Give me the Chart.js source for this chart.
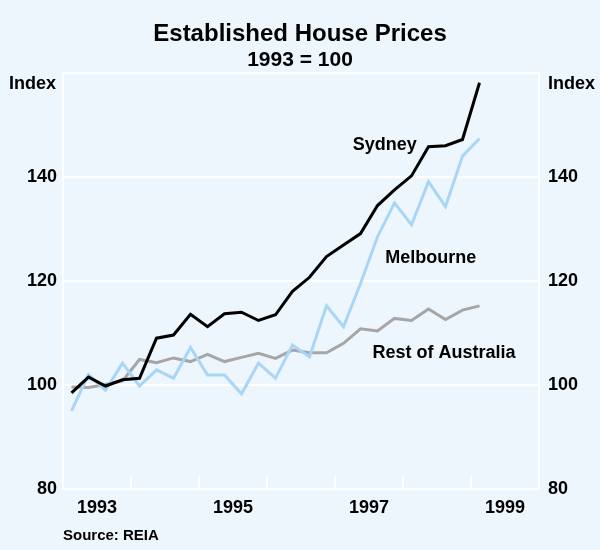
<!DOCTYPE html>
<html><head><meta charset="utf-8">
<script src="https://cdn.jsdelivr.net/npm/chart.js@4.4.0/dist/chart.umd.min.js"></script>
<style>html,body{margin:0;padding:0;background:#eef6fd;} #wrap{width:600px;height:550px;}</style>
</head><body><div id="wrap"><canvas id="c" width="600" height="550"></canvas></div>
<script>
const quarters = ['1993Q1','1993Q2','1993Q3','1993Q4','1994Q1','1994Q2','1994Q3','1994Q4',
  '1995Q1','1995Q2','1995Q3','1995Q4','1996Q1','1996Q2','1996Q3','1996Q4',
  '1997Q1','1997Q2','1997Q3','1997Q4','1998Q1','1998Q2','1998Q3','1998Q4','1999Q1'];
const sydney = [98.5,101.5,99.8,101.0,101.3,109.0,109.6,113.6,111.2,113.7,114.0,112.4,113.5,
  118.0,120.7,124.7,126.9,129.1,134.5,137.5,140.2,145.8,146.0,147.2,158.1];
const melbourne = [95.0,102.0,99.0,104.2,99.8,102.9,101.3,107.2,101.9,101.9,98.3,104.2,101.3,
  107.7,105.4,115.2,111.2,119.5,128.5,135.0,130.8,139.1,134.3,144.0,147.4];
const restOfAustralia = [99.6,99.5,100.1,100.8,104.9,104.3,105.2,104.5,105.9,104.5,105.3,106.1,105.1,
  106.7,106.2,106.2,108.0,110.8,110.4,112.8,112.4,114.6,112.6,114.4,115.2];
const yearLabels = ['1993','1995','1997','1999'];
const yTickValues = [80,100,120,140,160];

const FONT = 'Liberation Sans, Arial, sans-serif';
const BASE_YEAR = 1993;
function qToX(q){ const y = parseInt(q.slice(0,4),10); const n = parseInt(q.slice(5),10); return (y-BASE_YEAR)*4 + (n-1) + 0.5; }
function yearToX(y){ return (parseInt(y,10)-BASE_YEAR)*4 + 2; }
function pts(arr){ return arr.map((v,i)=>({x:qToX(quarters[i]), y:v})); }

const seriesLabels = [
  {text:'Sydney', x:17.05, y:146.2},
  {text:'Melbourne', x:18.95, y:124.4},
  {text:'Rest of Australia', x:18.2, y:106.2}
];

const decor = {
  id:'decor',
  beforeDraw(chart){
    const ctx = chart.ctx;
    ctx.save(); ctx.fillStyle = '#eef6fd'; ctx.fillRect(0,0,chart.width,chart.height); ctx.restore();
  },
  beforeDatasetsDraw(chart){
    const ctx = chart.ctx, xs = chart.scales.x, a = chart.chartArea;
    ctx.save(); ctx.strokeStyle = '#ffffff'; ctx.lineWidth = 2;
    for (let v = 4; v < 28; v += 4){
      const px = Math.round(xs.getPixelForValue(v));
      ctx.beginPath(); ctx.moveTo(px, a.bottom); ctx.lineTo(px, a.bottom - 13); ctx.stroke();
    }
    ctx.restore();
  },
  afterDraw(chart){
    const ctx = chart.ctx, xs = chart.scales.x, ys = chart.scales.y, a = chart.chartArea;
    ctx.save();
    ctx.fillStyle = '#000';
    ctx.font = 'bold 18px ' + FONT;
    ctx.textBaseline = 'middle';
    ctx.textAlign = 'right'; ctx.fillText('Index', a.left - 7, a.top + 11);
    ctx.textAlign = 'left'; ctx.fillText('Index', a.right + 9, a.top + 11);
    seriesLabels.forEach(l => { ctx.fillText(l.text, xs.getPixelForValue(l.x), ys.getPixelForValue(l.y)); });
    ctx.font = 'bold 15px ' + FONT;
    ctx.fillText('Source: REIA', a.left, 536);
    ctx.restore();
  }
};

const yTicksCommon = {
  min: 80, max: 160,
  afterBuildTicks(s){ s.ticks = yTickValues.map(v=>({value:v})); }
};

new Chart(document.getElementById('c'), {
  type:'line',
  data:{ datasets:[
    {label:'Sydney', data:pts(sydney), borderColor:'#000000', borderWidth:3, pointRadius:0, tension:0},
    {label:'Melbourne', data:pts(melbourne), borderColor:'#a9d6f5', borderWidth:3, pointRadius:0, tension:0},
    {label:'Rest of Australia', data:pts(restOfAustralia), borderColor:'#a6a6a6', borderWidth:3, pointRadius:0, tension:0}
  ]},
  plugins:[decor],
  options:{
    responsive:false, animation:false, devicePixelRatio:1,
    layout:{padding:{top:0,left:0,right:0,bottom:0}},
    plugins:{
      legend:{display:false}, tooltip:{enabled:false},
      title:{display:true, text:'Established House Prices', color:'#000', font:{family:FONT, size:24, weight:'bold', lineHeight:1.2}, padding:{top:20,bottom:0}},
      subtitle:{display:true, text:'1993 = 100', color:'#000', font:{family:FONT, size:21, weight:'bold', lineHeight:1.1}, padding:{top:0,bottom:1}}
    },
    scales:{
      x:{type:'linear', min:0, max:28,
        afterBuildTicks(s){ s.ticks = yearLabels.map(y=>({value:yearToX(y)})); },
        afterFit(s){ s.height = 61; },
        grid:{display:false, drawTicks:false},
        border:{display:true, color:'#ffffff', width:2},
        ticks:{padding:8, maxRotation:0, autoSkip:false, color:'#000', font:{family:FONT,size:18,weight:'bold'},
          callback(v){ const i = yearLabels.findIndex(y=>yearToX(y)===v); return i>=0 ? yearLabels[i] : ''; }}
      },
      y:{type:'linear', position:'left', ...yTicksCommon,
        afterFit(s){ s.width = 63; },
        grid:{color:'#ffffff', lineWidth:2, drawTicks:false},
        border:{display:true, color:'#ffffff', width:2},
        ticks:{padding:6, color:'#000', font:{family:FONT,size:18,weight:'bold'}, callback(v){ return v===160 ? '' : String(v); }}
      },
      y2:{type:'linear', position:'right', ...yTicksCommon,
        afterFit(s){ s.width = 61; },
        grid:{display:false, drawTicks:false},
        border:{display:true, color:'#ffffff', width:2},
        ticks:{padding:9, color:'#000', font:{family:FONT,size:18,weight:'bold'}, callback(v){ return v===160 ? '' : String(v); }}
      }
    }
  }
});
</script></body></html>
